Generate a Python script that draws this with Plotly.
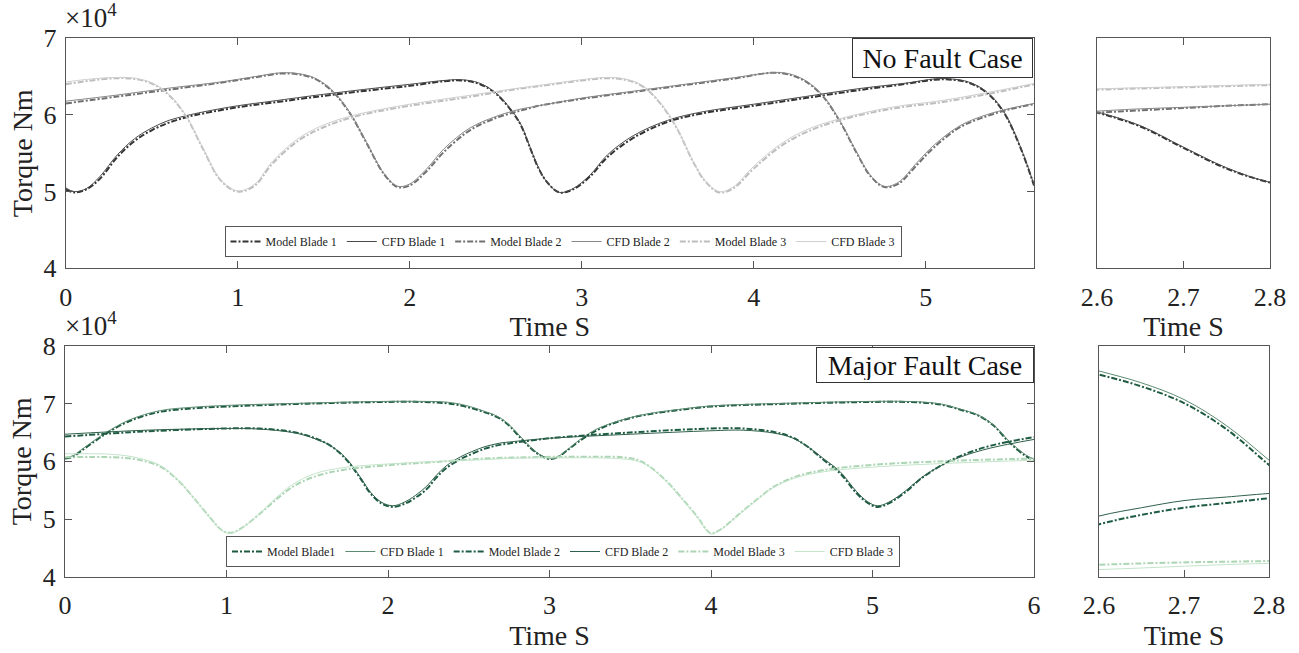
import plotly.graph_objects as go

# ---------------- data (torque in units of 1e4 Nm) ----------------
# No fault case
nf_t_b1 = [0, 0.05, 0.12, 0.2, 0.3, 0.4, 0.5, 0.6, 0.7, 0.8, 1.0, 1.2, 1.5, 1.8, 2.0, 2.2, 2.3, 2.4, 2.5, 2.6,
           2.65, 2.7, 2.75, 2.8, 2.87, 2.95, 3.05, 3.15, 3.3, 3.5, 3.7, 4.0, 4.3, 4.6, 4.9, 5.05, 5.15, 5.25, 5.35, 5.45,
           5.55, 5.63]
nf_model_b1 = [5.03, 4.99, 5.03, 5.17, 5.45, 5.66, 5.80, 5.90, 5.97, 6.02, 6.10, 6.16, 6.25, 6.33, 6.38, 6.44, 6.45, 6.41, 6.28, 6.03,
               5.85, 5.57, 5.30, 5.12, 4.99, 5.03, 5.20, 5.45, 5.70, 5.91, 6.02, 6.12, 6.22, 6.32, 6.41, 6.46, 6.46, 6.42, 6.30, 6.05,
               5.58, 5.08]
nf_cfd_b1 = [5.05, 5.00, 5.04, 5.20, 5.48, 5.69, 5.83, 5.93, 5.99, 6.04, 6.12, 6.18, 6.27, 6.35, 6.40, 6.45, 6.46, 6.42, 6.29, 6.04,
             5.86, 5.58, 5.31, 5.12, 4.99, 5.04, 5.22, 5.48, 5.73, 5.93, 6.04, 6.14, 6.24, 6.34, 6.42, 6.47, 6.47, 6.43, 6.31, 6.06,
             5.59, 5.09]

nf_t_b2 = [0, 0.3, 0.6, 0.9, 1.1, 1.25, 1.35, 1.45, 1.55, 1.65, 1.75, 1.85, 1.93, 2.0, 2.1, 2.2, 2.35, 2.5, 2.6, 2.65,
           2.7, 2.75, 2.8, 3.0, 3.3, 3.6, 3.9, 4.1, 4.2, 4.3, 4.4, 4.5, 4.6, 4.68, 4.76, 4.84, 4.95, 5.05, 5.2, 5.35,
           5.5, 5.63]
nf_model_b2 = [6.15, 6.24, 6.33, 6.42, 6.49, 6.54, 6.53, 6.47, 6.31, 6.03, 5.63, 5.23, 5.06, 5.08, 5.27, 5.52, 5.80, 5.96, 6.03, 6.06,
               6.09, 6.12, 6.14, 6.21, 6.30, 6.39, 6.48, 6.55, 6.53, 6.44, 6.25, 5.92, 5.50, 5.20, 5.06, 5.10, 5.35, 5.58, 5.84, 5.98,
               6.08, 6.14]
nf_cfd_b2 = [6.18, 6.26, 6.35, 6.43, 6.50, 6.55, 6.54, 6.48, 6.32, 6.04, 5.64, 5.24, 5.07, 5.10, 5.30, 5.56, 5.83, 5.98, 6.05, 6.08,
             6.10, 6.12, 6.14, 6.22, 6.31, 6.40, 6.49, 6.55, 6.54, 6.45, 6.26, 5.93, 5.51, 5.21, 5.07, 5.12, 5.38, 5.61, 5.86, 6.00,
             6.09, 6.15]

nf_t_b3 = [0, 0.15, 0.3, 0.4, 0.5, 0.6, 0.7, 0.8, 0.9, 1.0, 1.1, 1.2, 1.35, 1.5, 1.7, 2.0, 2.3, 2.6, 2.7, 2.8,
           3.0, 3.15, 3.25, 3.35, 3.45, 3.55, 3.65, 3.72, 3.8, 3.88, 4.0, 4.15, 4.3, 4.5, 4.8, 5.1, 5.4, 5.63]
nf_model_b3 = [6.40, 6.45, 6.48, 6.47, 6.41, 6.26, 5.98, 5.55, 5.15, 5.00, 5.08, 5.36, 5.66, 5.84, 5.99, 6.12, 6.22, 6.33, 6.36, 6.39,
               6.45, 6.48, 6.46, 6.38, 6.17, 5.84, 5.38, 5.13, 4.99, 5.04, 5.30, 5.58, 5.77, 5.93, 6.08, 6.17, 6.29, 6.40]
nf_cfd_b3 = [6.43, 6.47, 6.49, 6.48, 6.42, 6.27, 5.99, 5.56, 5.16, 5.01, 5.10, 5.39, 5.69, 5.87, 6.01, 6.14, 6.24, 6.34, 6.37, 6.40,
             6.46, 6.49, 6.47, 6.39, 6.18, 5.85, 5.39, 5.14, 5.00, 5.06, 5.33, 5.61, 5.80, 5.95, 6.10, 6.19, 6.31, 6.41]

# Major fault case
mf_t_b1 = [0, 0.05, 0.1, 0.18, 0.26, 0.4, 0.59, 0.8, 1.0, 1.5, 2.0, 2.2, 2.35, 2.45, 2.52, 2.6, 2.65, 2.7, 2.75, 2.8,
           2.85, 2.9, 2.95, 3.0, 3.05, 3.1, 3.2, 3.3, 3.45, 3.6, 3.8, 4.0, 4.5, 5.0, 5.2, 5.35, 5.45, 5.55, 5.65, 5.75,
           5.85, 5.95, 6.0]
mf_model_b1 = [6.05, 6.08, 6.18, 6.34, 6.49, 6.70, 6.86, 6.92, 6.95, 7.00, 7.03, 7.03, 7.01, 6.97, 6.92, 6.85, 6.80, 6.73, 6.62, 6.47,
               6.32, 6.19, 6.09, 6.04, 6.07, 6.17, 6.38, 6.55, 6.71, 6.81, 6.89, 6.95, 7.00, 7.03, 7.03, 7.01, 6.97, 6.89, 6.80, 6.62,
               6.32, 6.09, 6.02]
mf_cfd_b1 = [6.06, 6.10, 6.20, 6.36, 6.51, 6.72, 6.88, 6.94, 6.97, 7.01, 7.04, 7.04, 7.03, 6.99, 6.94, 6.865, 6.815, 6.745, 6.635, 6.49,
             6.34, 6.20, 6.10, 6.05, 6.08, 6.18, 6.40, 6.57, 6.72, 6.82, 6.90, 6.96, 7.01, 7.04, 7.04, 7.02, 6.98, 6.90, 6.81, 6.63,
             6.34, 6.11, 6.04]

mf_t_b2 = [0, 0.5, 1.0, 1.2, 1.41, 1.52, 1.62, 1.7, 1.76, 1.83, 1.89, 1.96, 2.03, 2.1, 2.17, 2.24, 2.3, 2.36, 2.45, 2.52,
           2.6, 2.65, 2.7, 2.75, 2.8, 3.0, 3.5, 4.0, 4.2, 4.39, 4.5, 4.59, 4.7, 4.8, 4.9, 4.97, 5.03, 5.1, 5.21, 5.3,
           5.42, 5.55, 5.73, 6.0]
mf_model_b2 = [6.43, 6.52, 6.57, 6.57, 6.51, 6.43, 6.31, 6.15, 5.97, 5.70, 5.45, 5.27, 5.21, 5.26, 5.37, 5.52, 5.72, 5.88, 6.04, 6.13,
               6.22, 6.26, 6.29, 6.31, 6.33, 6.40, 6.50, 6.57, 6.57, 6.51, 6.42, 6.27, 6.02, 5.79, 5.45, 5.28, 5.21, 5.27, 5.48, 5.70,
               5.92, 6.10, 6.27, 6.42]
mf_cfd_b2 = [6.47, 6.54, 6.57, 6.56, 6.50, 6.42, 6.31, 6.16, 5.99, 5.72, 5.47, 5.29, 5.23, 5.29, 5.41, 5.57, 5.76, 5.92, 6.08, 6.17,
             6.255, 6.29, 6.32, 6.335, 6.35, 6.40, 6.47, 6.53, 6.54, 6.49, 6.41, 6.27, 6.04, 5.82, 5.48, 5.30, 5.23, 5.29, 5.50, 5.71,
             5.92, 6.08, 6.23, 6.38]

mf_t_b3 = [0, 0.3, 0.45, 0.59, 0.7, 0.79, 0.9, 0.97, 1.02, 1.08, 1.21, 1.3, 1.41, 1.55, 1.72, 2.03, 2.3, 2.6, 2.8, 3.07,
           3.3, 3.46, 3.55, 3.62, 3.72, 3.81, 3.92, 3.97, 4.0, 4.06, 4.18, 4.28, 4.39, 4.53, 4.7, 5.0, 5.5, 6.0]
mf_model_b3 = [6.07, 6.07, 6.03, 5.91, 5.67, 5.39, 5.02, 4.81, 4.76, 4.82, 5.10, 5.32, 5.56, 5.74, 5.85, 5.94, 5.99, 6.05, 6.066, 6.08,
               6.08, 6.07, 6.02, 5.91, 5.67, 5.39, 5.02, 4.82, 4.75, 4.82, 5.10, 5.33, 5.56, 5.74, 5.85, 5.94, 6.01, 6.05]
mf_cfd_b3 = [6.13, 6.12, 6.06, 5.93, 5.68, 5.39, 5.01, 4.80, 4.75, 4.81, 5.11, 5.35, 5.60, 5.79, 5.89, 5.96, 6.00, 6.03, 6.056, 6.06,
             6.06, 6.04, 6.00, 5.90, 5.66, 5.38, 5.01, 4.81, 4.74, 4.81, 5.09, 5.32, 5.55, 5.72, 5.82, 5.90, 5.97, 6.02]

nf_xticks = [0, 1, 2, 3, 4, 5]
mf_xticks = [0, 1, 2, 3, 4, 5, 6]
zoom_xticks = [2.6, 2.7, 2.8]
zoom_xlabels = ["2.6", "2.7", "2.8"]
nf_yticks = [4, 5, 6, 7]
mf_yticks = [4, 5, 6, 7, 8]

# ---------------- styling ----------------
FONT = "Liberation Serif, Times New Roman, serif"
DASHDOT = "6px,2px,2px,2px"
nf_series = [
    ("Model Blade 1", nf_t_b1, nf_model_b1, "#333333", DASHDOT, 2.0),
    ("CFD Blade 1", nf_t_b1, nf_cfd_b1, "#4a4a4a", "solid", 1.0),
    ("Model Blade 2", nf_t_b2, nf_model_b2, "#707070", DASHDOT, 2.0),
    ("CFD Blade 2", nf_t_b2, nf_cfd_b2, "#888888", "solid", 1.0),
    ("Model Blade 3", nf_t_b3, nf_model_b3, "#bdbdbd", DASHDOT, 2.0),
    ("CFD Blade 3", nf_t_b3, nf_cfd_b3, "#cfcfcf", "solid", 1.0),
]
mf_series = [
    ("Model Blade1", mf_t_b1, mf_model_b1, "#1d5a3f", DASHDOT, 2.0),
    ("CFD Blade 1", mf_t_b1, mf_cfd_b1, "#5d8c72", "solid", 1.0),
    ("Model Blade 2", mf_t_b2, mf_model_b2, "#1f5c44", DASHDOT, 2.0),
    ("CFD Blade 2", mf_t_b2, mf_cfd_b2, "#2f604b", "solid", 1.0),
    ("Model Blade 3", mf_t_b3, mf_model_b3, "#acd5b4", DASHDOT, 2.0),
    ("CFD Blade 3", mf_t_b3, mf_cfd_b3, "#c4e4ca", "solid", 1.0),
]

fig = go.Figure()

for name, t, v, col, dash, w in nf_series:
    fig.add_trace(go.Scatter(x=t, y=v, name=name, mode="lines", xaxis="x", yaxis="y",
                             line=dict(color=col, dash=dash, width=w, shape="spline"), legend="legend"))
    fig.add_trace(go.Scatter(x=t, y=v, name=name, mode="lines", xaxis="x2", yaxis="y2", showlegend=False,
                             line=dict(color=col, dash=dash, width=w, shape="spline")))
for name, t, v, col, dash, w in mf_series:
    fig.add_trace(go.Scatter(x=t, y=v, name=name, mode="lines", xaxis="x3", yaxis="y3",
                             line=dict(color=col, dash=dash, width=w, shape="spline"), legend="legend2"))
    fig.add_trace(go.Scatter(x=t, y=v, name=name, mode="lines", xaxis="x4", yaxis="y4", showlegend=False,
                             line=dict(color=col, dash=dash, width=w, shape="spline")))

W, H = 1299, 653
def px_x(p):
    return p / W
def px_y(p):
    return 1 - p / H

tick_font = dict(family=FONT, size=26, color="#222222")
title_font = dict(family=FONT, size=28, color="#222222")
axis_common = dict(showline=True, linecolor="#555555", linewidth=1, mirror="ticks", ticks="inside",
                   ticklen=7, tickcolor="#555555", showgrid=False, zeroline=False, automargin=False)

top_dom = [px_y(268.3), px_y(38.3)]
bot_dom = [px_y(576.7), px_y(346)]

fig.update_layout(
    width=W, height=H,
    margin=dict(l=0, r=0, t=0, b=0),
    paper_bgcolor="white", plot_bgcolor="white",
    font=dict(family=FONT, color="#222222"),
    xaxis=dict(axis_common, domain=[px_x(65.7), px_x(1034)], range=[0, 5.63], tickvals=nf_xticks,
               anchor="y", ticklabelstandoff=5, tickfont=tick_font,
               title=dict(text="Time S", font=title_font, standoff=0)),
    yaxis=dict(axis_common, domain=top_dom, range=[4, 7], tickvals=nf_yticks, anchor="x",
               ticklabelstandoff=3, tickfont=tick_font,
               title=dict(text="Torque Nm", font=title_font, standoff=2)),
    xaxis2=dict(axis_common, domain=[px_x(1097), px_x(1270)], range=[2.6, 2.8], tickvals=zoom_xticks,
                ticktext=zoom_xlabels, anchor="y2", ticklabelstandoff=5, tickfont=tick_font,
                title=dict(text="Time S", font=title_font, standoff=0)),
    yaxis2=dict(axis_common, domain=top_dom, range=[4, 7], anchor="x2", showticklabels=False, ticks=""),
    xaxis3=dict(axis_common, domain=[px_x(65), px_x(1034)], range=[0, 6], tickvals=mf_xticks,
                anchor="y3", ticklabelstandoff=5, tickfont=tick_font,
                title=dict(text="Time S", font=title_font, standoff=0)),
    yaxis3=dict(axis_common, domain=bot_dom, range=[4, 8], tickvals=mf_yticks, anchor="x3",
                ticklabelstandoff=3, tickfont=tick_font,
                title=dict(text="Torque Nm", font=title_font, standoff=2)),
    xaxis4=dict(axis_common, domain=[px_x(1099), px_x(1269)], range=[2.6, 2.8], tickvals=zoom_xticks,
                ticktext=zoom_xlabels, anchor="y4", ticklabelstandoff=5, tickfont=tick_font,
                title=dict(text="Time S", font=title_font, standoff=0)),
    yaxis4=dict(axis_common, domain=bot_dom, range=[6.0, 6.97], anchor="x4", showticklabels=False, ticks=""),
    legend=dict(orientation="h", x=px_x(563), xanchor="center", y=px_y(257), yanchor="bottom",
                bgcolor="white", bordercolor="#555555", borderwidth=1,
                font=dict(family=FONT, size=12, color="#222222"), itemwidth=30, tracegroupgap=0),
    legend2=dict(orientation="h", x=px_x(563), xanchor="center", y=px_y(567), yanchor="bottom",
                 bgcolor="white", bordercolor="#555555", borderwidth=1,
                 font=dict(family=FONT, size=12, color="#222222"), itemwidth=30, tracegroupgap=0),
    annotations=[
        dict(text="×10<sup>4</sup>", xref="paper", yref="paper", x=px_x(63), y=px_y(35),
             xanchor="left", yanchor="bottom", showarrow=False, font=dict(family=FONT, size=27, color="#222222")),
        dict(text="×10<sup>4</sup>", xref="paper", yref="paper", x=px_x(63), y=px_y(343),
             xanchor="left", yanchor="bottom", showarrow=False, font=dict(family=FONT, size=27, color="#222222")),
        dict(text="No Fault Case", xref="paper", yref="paper", x=px_x(1033), y=px_y(38.3),
             xanchor="right", yanchor="top", showarrow=False, bgcolor="white",
             bordercolor="#333333", borderwidth=1, borderpad=2, width=175, height=34,
             font=dict(family=FONT, size=28, color="#111111")),
        dict(text="Major Fault Case", xref="paper", yref="paper", x=px_x(1034), y=px_y(346.5),
             xanchor="right", yanchor="top", showarrow=False, bgcolor="white",
             bordercolor="#333333", borderwidth=1, borderpad=2, width=212, height=30,
             font=dict(family=FONT, size=28, color="#111111")),
    ],
)

fig.write_html("out.html", config={"displayModeBar": False},
               post_script="document.body.style.margin='0';")
